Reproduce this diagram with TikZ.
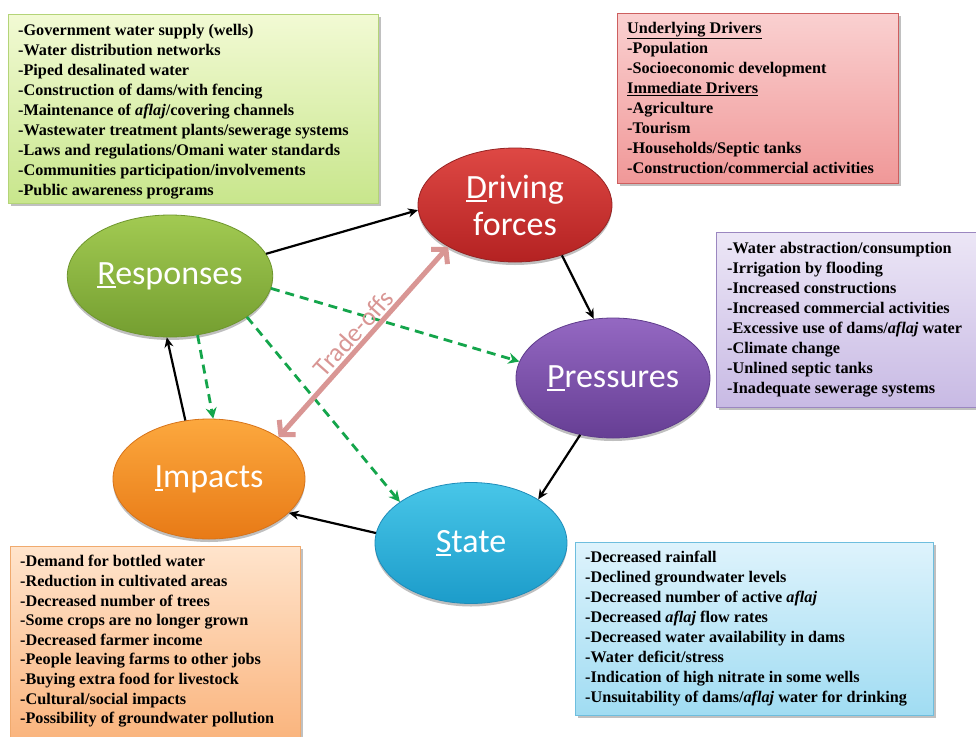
\documentclass[tikz,border=0pt]{standalone}
\usepackage{fontspec}
\setmainfont{Liberation Serif}
\newfontfamily\calib{Carlito}
\usetikzlibrary{shapes.geometric,arrows.meta,shadows}

\definecolor{drvT}{RGB}{222,72,68}
\definecolor{drvB}{RGB}{180,34,34}
\definecolor{drvL}{RGB}{150,35,35}
\definecolor{resT}{RGB}{162,202,82}
\definecolor{resB}{RGB}{116,158,48}
\definecolor{resL}{RGB}{110,150,45}
\definecolor{preT}{RGB}{148,104,194}
\definecolor{preB}{RGB}{102,62,148}
\definecolor{preL}{RGB}{95,60,140}
\definecolor{impT}{RGB}{252,168,62}
\definecolor{impB}{RGB}{232,122,22}
\definecolor{impL}{RGB}{215,115,25}
\definecolor{staT}{RGB}{72,198,232}
\definecolor{staB}{RGB}{28,156,202}
\definecolor{staL}{RGB}{30,140,185}
\definecolor{pinkc}{RGB}{217,150,148}
\definecolor{gdashc}{RGB}{20,165,75}
\definecolor{gbT}{RGB}{242,250,212}
\definecolor{gbB}{RGB}{200,230,140}
\definecolor{gbL}{RGB}{180,212,120}
\definecolor{rbT}{RGB}{250,208,208}
\definecolor{rbB}{RGB}{240,152,152}
\definecolor{rbL}{RGB}{205,95,95}
\definecolor{pbT}{RGB}{236,230,246}
\definecolor{pbB}{RGB}{200,186,228}
\definecolor{pbL}{RGB}{155,135,192}
\definecolor{obT}{RGB}{255,228,204}
\definecolor{obB}{RGB}{250,180,125}
\definecolor{obL}{RGB}{240,170,110}
\definecolor{bbT}{RGB}{222,243,252}
\definecolor{bbB}{RGB}{160,220,242}
\definecolor{bbL}{RGB}{110,190,222}

\newcommand\firstul[1]{\setbox0\hbox{#1}\rlap{\rule[-3.5pt]{\wd0}{2pt}}#1}

\begin{document}
\begin{tikzpicture}[x=1pt,y=-1pt,
  infobox/.style={rectangle, anchor=north west, inner sep=0pt, line width=0.8pt,
    drop shadow={shadow xshift=2.5pt, shadow yshift=-2.5pt, opacity=0.35, fill=black!70}},
  btext/.style={anchor=north west, inner sep=0pt, align=left,
    font={\bfseries\fontsize{16.2}{20}\selectfont}},
  ell/.style={ellipse, inner sep=0pt, line width=0.8pt, text=white, align=center,
    font={\calib\fontsize{34}{37}\selectfont},
    drop shadow={shadow xshift=0pt, shadow yshift=-3pt, opacity=0.25, fill=black}},
  blk/.style={-{Stealth[length=10pt,width=9pt]}, line width=2.2pt, black},
  gdash/.style={-{Stealth[length=11pt,width=11pt]}, line width=2.8pt, gdashc, dash pattern=on 9pt off 6pt},
  pinkarr/.style={{Straight Barb[length=10pt,width=22pt]}-{Straight Barb[length=10pt,width=22pt]}, line width=5pt, pinkc, line cap=round}
]
\useasboundingbox (0,0) rectangle (976,736);
\fill[white] (0,0) rectangle (976,736);

% info boxes
\node[infobox, minimum width=370pt, minimum height=189pt, top color=gbT, bottom color=gbB, draw=gbL] (rbox) at (8,14) {};
\node[btext] (rtext) at (18,21) {\strut-Government water supply (wells)\\
-Water distribution networks\\
-Piped desalinated water\\
-Construction of dams/with fencing\\
-Maintenance of \textit{aflaj}/covering channels\\
-Wastewater treatment plants/sewerage systems\\
-Laws and regulations/Omani water standards\\
-Communities participation/involvements\\
-Public awareness programs};

\node[infobox, minimum width=281pt, minimum height=170pt, top color=rbT, bottom color=rbB, draw=rbL] (dbox) at (617,13) {};
\node[btext] (dtext) at (627,19) {\strut\underline{Underlying Drivers}\\
-Population\\
-Socioeconomic development\\
\underline{Immediate Drivers}\\
-Agriculture\\
-Tourism\\
-Households/Septic tanks\\
-Construction/commercial activities};

\node[infobox, minimum width=262pt, minimum height=175pt, top color=pbT, bottom color=pbB, draw=pbL] (pbox) at (716,232) {};
\node[btext] (ptext) at (727,239) {\strut-Water abstraction/consumption\\
-Irrigation by flooding\\
-Increased constructions\\
-Increased commercial activities\\
-Excessive use of dams/\textit{aflaj} water\\
-Climate change\\
-Unlined septic tanks\\
-Inadequate sewerage systems};

\node[infobox, minimum width=290pt, minimum height=194pt, top color=obT, bottom color=obB, draw=obL] (ibox) at (10,546) {};
\node[btext, font={\bfseries\fontsize{16.2}{19.6}\selectfont}] (itext) at (20,553) {\strut-Demand for bottled water\\
-Reduction in cultivated areas\\
-Decreased number of trees\\
-Some crops are no longer grown\\
-Decreased farmer income\\
-People leaving farms to other jobs\\
-Buying extra food for livestock\\
-Cultural/social impacts\\
-Possibility of groundwater pollution};

\node[infobox, minimum width=358pt, minimum height=173pt, top color=bbT, bottom color=bbB, draw=bbL] (sbox) at (575,542) {};
\node[btext] (stext) at (585,548) {\strut-Decreased rainfall\\
-Declined groundwater levels\\
-Decreased number of active \textit{aflaj}\\
-Decreased \textit{aflaj} flow rates\\
-Decreased water availability in dams\\
-Water deficit/stress\\
-Indication of high nitrate in some wells\\
-Unsuitability of dams/\textit{aflaj} water for drinking};

% ellipses
\node[ell, minimum width=194pt, minimum height=114pt, top color=drvT, bottom color=drvB, draw=drvL] (drive) at (515,205) {\firstul{D}riving\\forces};
\node[ell, minimum width=194pt, minimum height=122pt, top color=resT, bottom color=resB, draw=resL] (resp) at (170,276) {\firstul{R}esponses};
\node[ell, minimum width=194pt, minimum height=120pt, top color=preT, bottom color=preB, draw=preL] (press) at (613,378) {\firstul{P}ressures};
\node[ell, minimum width=192pt, minimum height=120pt, top color=impT, bottom color=impB, draw=impL] (imp) at (209,479) {\firstul{I}mpacts};
\node[ell, minimum width=192pt, minimum height=121pt, top color=staT, bottom color=staB, draw=staL] (state) at (471,543) {\firstul{S}tate};

% black cycle arrows
\draw[blk] (resp.13) -- (drive.183);
\draw[blk] (drive.313) -- (press.108);
\draw[blk] (press.240) -- (state.33);
\draw[blk] (state.174) -- (imp.337);
\draw[blk] (imp.112) -- (resp.267);

% green dashed arrows
\draw[gdash] (resp.353) -- (press.170);
\draw[gdash] (resp.295) -- (imp.86);
\draw[gdash] (resp.332) -- (state.150);

% trade-offs
\draw[pinkarr] (imp.31) -- node[sloped, above, inner sep=2pt, text=pinkc, font={\calib\fontsize{26}{28}\selectfont}] (trade) {Trade-offs} (drive.212);
\end{tikzpicture}
\end{document}
